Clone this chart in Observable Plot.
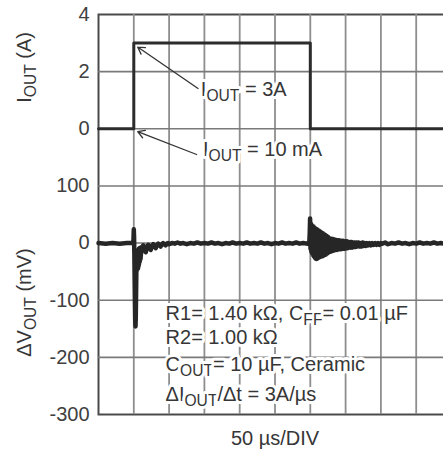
<!DOCTYPE html>
<html><head><meta charset="utf-8">
<script src="https://cdn.jsdelivr.net/npm/d3@7"></script>
<script src="https://cdn.jsdelivr.net/npm/@observablehq/plot@0.6"></script>
<style>
html,body{margin:0;padding:0;background:#fff;overflow:hidden;}
#chart{width:443px;height:458px;overflow:hidden;}
#chart svg{max-width:none !important;}
</style></head><body><div id="chart"></div>
<script>
// ---- data ----
// time axis: 50 µs per division, 10 divisions (0..500 µs)
const xDivisions = [50, 100, 150, 200, 250, 300, 350, 400, 450];
// shared vertical axis in mV; the current panel sits on top: 0 A <-> 200, 2 A per 100
const yGrid = [-200, -100, 0, 100, 200, 300];
const yTicks = [-300, -200, -100, 0, 100, 200, 300, 400];
const yTickLabels = ["-300", "-200", "-100", "0", "100", "0", "2", "4"];

// load current (A) vs time (µs)
const currentTime = [0, 50, 50, 300, 300, 500];
const currentAmps = [0, 0, 3, 3, 0, 0];

// output voltage deviation (mV) vs time (µs)
const vBefore = [[0,0],[10,-1],[20,0],[30,-1],[40,0],[48,0]];
const vLoadStep = [[49.2,-1],[49.6,8],[50,24],[50.4,10],[50.8,-20],[51.2,-60],[51.6,-100],[52,-135],[52.4,-146],[52.8,-130],[53.2,-90],[53.6,-50],[54,-30],[54.4,-48],[54.8,-18],[55.2,-46],[55.6,-14],[56,-44],[56.4,-12],[56.8,-40],[57.2,-10],[57.6,-36],[58,-9],[58.5,-32],[59,-8],[59.5,-28],[60,-20],[61.8,-7],[63.5,-4],[65.2,-12],[67,-16],[68.8,-6],[70.5,-3],[72.2,-9],[74,-12],[75.8,-5],[77.5,-2],[79.2,-6],[81,-9],[82.8,-3],[84.5,-1],[86.2,-4],[88,-6],[89.8,-2],[91.5,0],[93.2,-2],[95,-4],[96.8,-1],[98.5,0],[100,-2]];
const vSteady = [[104,0],[108,-1],[112,1],[116,-1],[120,0],[125,-2],[130,0],[135,-1],[140,1],[145,-1],[150,0],[155,-1],[160,1],[165,-1],[170,0],[175,-2],[180,0],[185,-1],[190,1],[195,-1],[200,0],[205,-1],[210,1],[215,-1],[220,0],[225,-1],[230,1],[235,-1],[240,0],[245,-2],[250,0],[255,-1],[260,1],[265,-1],[270,0],[275,-1],[280,1],[285,-1],[290,0],[295,-1],[297,0]];
const vLoadRelease = [[298.5,-2],[299.2,18],[299.7,43],[300.3,-10],[300.9,34],[301.5,-15],[302.1,31],[302.7,-18],[303.3,30],[303.9,-21],[304.5,29],[305.1,-23],[305.7,27],[306.3,-25],[306.9,26],[307.5,-27],[308.1,25],[308.7,-28],[309.3,24],[309.9,-27],[310.5,23],[311.1,-26],[311.7,22],[312.3,-25],[312.9,21],[313.5,-24],[314.1,20],[314.7,-24],[315.3,19],[315.9,-23],[316.5,18],[317.1,-23],[317.7,17],[318.3,-22],[318.9,16],[319.5,-21],[320.1,15],[320.7,-21],[321.3,14],[321.9,-20],[322.5,13],[323.1,-19],[323.7,12],[324.3,-18],[324.9,11],[325.5,-17],[326.1,9],[326.7,-16],[327.3,8],[327.9,-15],[328.5,8],[329.1,-15],[329.7,7],[330.3,-14],[330.9,7],[331.5,-14],[332.1,7],[332.7,-13],[333.3,6],[333.9,-13],[334.5,6],[335.1,-12],[335.7,6],[336.3,-12],[337.2,5],[338.1,-12],[339,5],[339.9,-11],[340.8,5],[341.7,-11],[342.6,4],[343.5,-11],[344.4,4],[345.3,-10],[346.2,4],[347.1,-10],[348,3],[348.9,-10],[349.8,3],[350.7,-9],[351.8,3],[352.9,-9],[354,2],[355.1,-8],[356.2,2],[357.3,-8],[358.4,2],[359.5,-8],[360.6,1],[361.7,-7],[362.8,1],[363.9,-7],[365,1],[366.5,-6],[368,1],[369.5,-6],[371,0],[372.5,-6],[374,1],[375.5,-5],[377,0],[378.5,-5],[380,0],[382,-4],[384,0],[386,-4],[388,0],[390,-3],[392,0],[394,-3],[396,0],[398,-3],[400,0]];
const vTail = [[402,-1],[406,1],[410,-2],[415,0],[420,-1],[425,1],[430,-1],[435,0],[440,-2],[445,0],[450,-1],[455,1],[460,-1],[465,0],[470,-1],[475,1],[480,-1],[485,0],[490,-1],[495,1],[500,0]];

// text
const currentLabel = "I_{OUT} (A)";
const voltageLabel = "ΔV_{OUT} (mV)";
const timeLabel = "50 µs/DIV";
const highLabel = "I_{OUT} = 3A";
const lowLabel = "I_{OUT} = 10 mA";
const conditions = ["R1= 1.40 kΩ, C_{FF}= 0.01 µF", "R2= 1.00 kΩ", "C_{OUT}= 10 µF, Ceramic", "ΔI_{OUT}/Δt = 3A/µs"];

// ---- build ----
const amp = a => 200 + 50 * a; // current (A) onto the shared axis
const current = currentTime.map((t, i) => ({t, a: currentAmps[i]}));
const voltage = [...vBefore, ...vLoadStep, ...vSteady, ...vLoadRelease, ...vTail].map(([t, v]) => ({t, v}));
const arrows = [{t1: 141, a1: 1.41, t2: 55.5, a2: 2.86}, {t1: 139, a1: -0.9, t2: 55.5, a2: -0.1}];

const ink = "#363636";
const halo = {stroke: "white", strokeWidth: 6, paintOrder: "stroke", fill: ink};
const condY = [-123, -166, -212.5, -265];

const chart = Plot.plot({
  width: 451, height: 458,
  marginLeft: 98, marginRight: 0, marginTop: 14, marginBottom: 44,
  style: {fontFamily: "'Liberation Sans', Arial, sans-serif", fontSize: "20px", color: ink, maxWidth: "none"},
  x: {domain: [0, 500], axis: null},
  y: {domain: [-300, 400], axis: null},
  marks: [
    Plot.frame({stroke: "#4a4a4a", strokeWidth: 2, fill: "none"}),
    Plot.ruleX(xDivisions, {x: d => d, stroke: "#8e8e8e", strokeWidth: 1.8}),
    Plot.ruleY(yGrid, {y: d => d, stroke: "#7a7a7a", strokeWidth: 1.6}),
    Plot.axisY({ticks: yTicks, tickSize: 0, tickPadding: 9, label: null, fontSize: 20, fill: "#404040",
      tickFormat: d => yTickLabels[yTicks.indexOf(d)]}),
    Plot.line(current, {x: "t", y: d => amp(d.a), stroke: "#2c2c2c", strokeWidth: 3}),
    Plot.line(voltage, {x: "t", y: "v", stroke: "#262626", strokeWidth: 4.5, strokeLinejoin: "round"}),
    Plot.arrow(arrows, {x1: "t1", y1: d => amp(d.a1), x2: "t2", y2: d => amp(d.a2), stroke: "#333", strokeWidth: 1.3, headLength: 9}),
    Plot.text([highLabel], {text: d => d, x: 145, y: amp(1.38), textAnchor: "start", ...halo}),
    Plot.text([lowLabel], {text: d => d, x: 148, y: amp(-0.72), textAnchor: "start", ...halo}),
    Plot.text(conditions, {text: d => d, x: 95, y: (d, i) => condY[i], textAnchor: "start", ...halo}),
    Plot.text([currentLabel], {text: d => d, frameAnchor: "left", textAnchor: "middle", y: amp(2.15), dx: -74, rotate: -90, fill: ink}),
    Plot.text([voltageLabel], {text: d => d, frameAnchor: "left", textAnchor: "middle", y: -104, dx: -74, rotate: -90, fill: ink}),
    Plot.text([timeLabel], {text: d => d, frameAnchor: "bottom", dy: 30, fill: ink})
  ]
});

// turn "_{...}" into subscripts
function subscripts(root) {
  root.querySelectorAll("text").forEach(el => {
    const nodes = el.querySelector("tspan") ? [...el.querySelectorAll("tspan")] : [el];
    nodes.forEach(node => {
      const s = node.textContent;
      if (!s.includes("_{")) return;
      node.textContent = "";
      const re = /_\{([^}]*)\}/g;
      let last = 0, m, shifted = false;
      const add = (txt, sub) => {
        if (!txt) return;
        const ts = document.createElementNS("http://www.w3.org/2000/svg", "tspan");
        if (sub) { ts.setAttribute("dy", "5"); ts.setAttribute("font-size", "78%"); shifted = true; }
        else if (shifted) { ts.setAttribute("dy", "-5"); shifted = false; }
        ts.textContent = txt;
        node.appendChild(ts);
      };
      while ((m = re.exec(s))) { add(s.slice(last, m.index), false); add(m[1], true); last = re.lastIndex; }
      add(s.slice(last), false);
    });
  });
}
subscripts(chart);
document.getElementById("chart").appendChild(chart);
</script></body></html>
